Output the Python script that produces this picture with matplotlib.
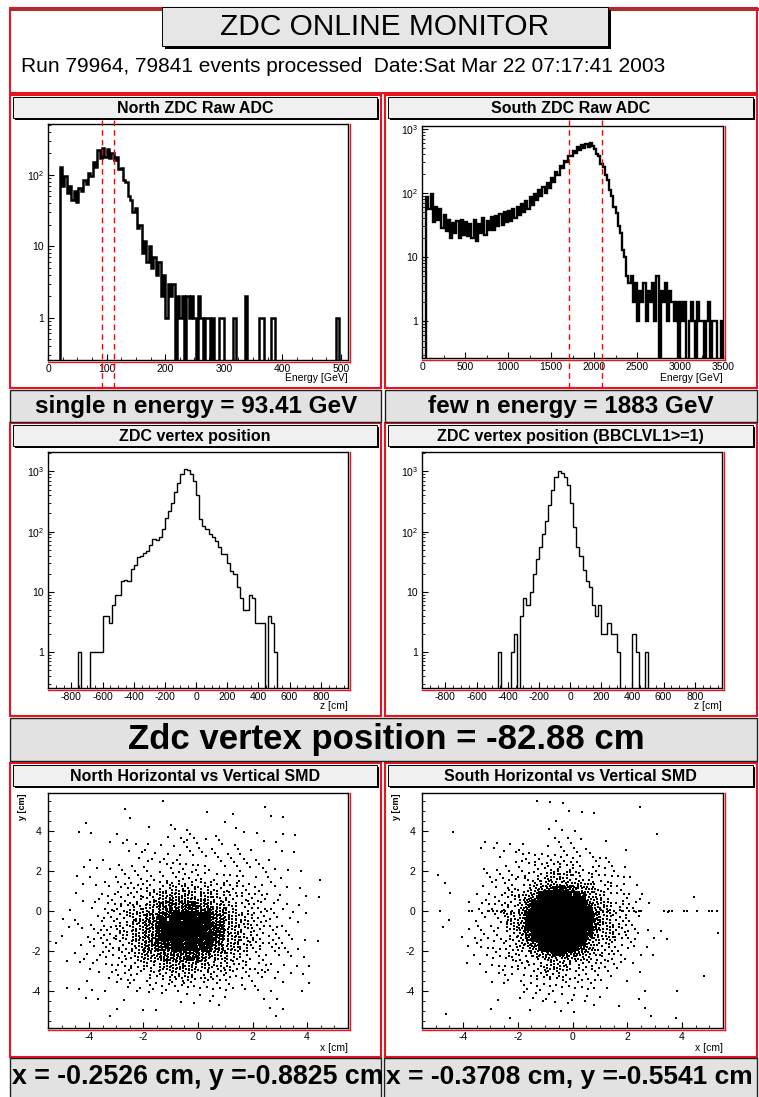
import numpy as np
import matplotlib
matplotlib.use('Agg')
import matplotlib.pyplot as plt
from matplotlib.patches import Rectangle
from matplotlib.ticker import MultipleLocator, LogLocator, FuncFormatter, NullFormatter

# ---- data ----
run_text = 'Run 79964, 79841 events processed  Date:Sat Mar 22 07:17:41 2003'

# north ZDC raw ADC, 4 GeV bins starting at 20 GeV
north_adc_start, north_adc_width = 20, 4
north_adc = [130, 70, 95, 55, 70, 45, 60, 42, 65, 60, 85, 75, 105, 95, 150, 130,
             220, 170, 240, 180, 230, 170, 205, 160, 175, 120, 125, 85, 80, 50,
             45, 30, 34, 18, 20, 8, 12, 6, 10, 5, 7, 4, 6, 2, 4, 1, 3, 2, 3, 0,
             2, 1, 2, 0, 2, 1, 2, 1, 0, 2, 1, 0, 1, 1, 0, 1, 0, 0, 1, 1, 0, 0,
             0, 0, 1, 0, 0, 0, 0, 2, 0, 0, 0, 0, 0, 1, 1, 0, 0, 0, 1, 1, 0, 0,
             0, 0, 0, 0, 0, 0, 0, 0, 0, 0, 0, 0, 0, 0, 0, 0, 0, 0, 0, 0, 0, 0,
             0, 0, 1, 0, 0]
north_cuts = [91.5, 113]

# south ZDC raw ADC, 25 GeV bins starting at 50 GeV
south_adc_start, south_adc_width = 50, 25
south_adc = [85, 55, 95, 35, 60, 38, 55, 28, 45, 25, 38, 20, 34, 24, 36, 20, 38,
             22, 35, 21, 33, 20, 38, 18, 33, 24, 40, 22, 36, 26, 42, 26, 44, 30,
             47, 31, 50, 35, 52, 37, 57, 40, 60, 45, 66, 50, 74, 56, 85, 65, 95,
             78, 110, 88, 125, 100, 140, 120, 170, 150, 210, 190, 260, 240, 310,
             300, 380, 370, 450, 420, 510, 470, 550, 500, 570, 520, 590, 540,
             480, 410, 370, 280, 250, 190, 160, 110, 90, 60, 48, 30, 24, 13, 10,
             5, 4, 5, 2, 4, 1, 3, 2, 4, 1, 3, 2, 4, 1, 5, 0, 3, 2, 4, 1, 3, 2,
             1, 2, 0, 2, 1, 2, 0, 1, 2, 1, 0, 2, 1, 1, 0, 1, 2, 0, 1, 1, 0, 0, 1]
south_cuts = [1708, 2093]

# ZDC vertex position, 20 cm bins from -1000 cm
vtx_start, vtx_width = -1000, 20
north_vtx = ([0] * 12 + [1, 0, 0, 0, 1, 1, 1, 1, 4, 4, 3, 6, 9, 9, 15, 16, 15, 24,
             28, 38, 40, 45, 48, 60, 75, 72, 80, 110, 170, 220, 300, 450, 650,
             900, 1080, 1050, 900, 700, 400, 160, 125, 110, 90, 82, 70, 55, 42,
             42, 30, 22, 20, 12, 8, 5, 5, 9, 8, 3, 3, 3, 0, 4, 3, 1] + [0] * 24)
south_vtx = ([0] * 27 + [1, 0, 0, 0, 1, 2, 0, 4, 8, 6, 10, 20, 35, 55, 90, 150,
             280, 500, 820, 1000, 950, 820, 600, 300, 120, 55, 40, 23, 15, 12,
             6, 4, 6, 2, 2, 3, 2, 2, 1, 0, 0, 0, 0, 2, 1, 0, 0, 1] + [0] * 25)

# SMD hit maps: counts in 0.5 cm cells, x from -5.5, rows from y=+6 downwards
smd_x0, smd_y0, smd_cell = -5.5, 6.0, 0.5
north_smd = [
    [0, 0, 0, 0, 0, 0, 0, 0, 0, 0, 0, 0, 0, 0, 0, 0, 0, 0, 0, 0, 0, 0],
    [0, 0, 0, 0, 0, 1, 0, 0, 1, 0, 0, 0, 0, 0, 0, 1, 0, 0, 0, 0, 0, 0],
    [0, 0, 0, 0, 0, 0, 1, 0, 0, 0, 0, 1, 0, 1, 0, 0, 1, 1, 0, 0, 0, 0],
    [0, 0, 1, 0, 0, 0, 0, 1, 0, 2, 1, 0, 0, 2, 0, 0, 0, 0, 0, 0, 0, 0],
    [0, 0, 1, 1, 0, 2, 0, 0, 1, 1, 3, 1, 2, 0, 1, 1, 0, 1, 1, 0, 0, 0],
    [0, 0, 0, 0, 1, 1, 1, 2, 1, 2, 2, 1, 2, 2, 1, 1, 1, 0, 0, 0, 0, 0],
    [0, 0, 0, 1, 1, 1, 2, 2, 2, 2, 2, 2, 2, 2, 2, 1, 1, 1, 1, 0, 0, 0],
    [0, 0, 1, 1, 1, 2, 2, 2, 3, 3, 3, 3, 2, 2, 2, 2, 1, 1, 1, 0, 0, 0],
    [0, 0, 1, 1, 1, 2, 2, 3, 3, 4, 4, 3, 3, 3, 2, 2, 1, 1, 0, 1, 0, 0],
    [0, 0, 1, 1, 2, 4, 4, 5, 7, 9, 9, 9, 5, 5, 4, 3, 2, 1, 1, 0, 0, 0],
    [0, 0, 1, 2, 3, 4, 5, 9, 15, 15, 15, 15, 9, 7, 5, 4, 2, 1, 1, 1, 0, 0],
    [0, 1, 1, 2, 4, 5, 9, 15, 25, 26, 36, 25, 15, 9, 5, 4, 2, 2, 1, 0, 0, 0],
    [0, 1, 1, 2, 4, 5, 12, 25, 36, 50, 50, 50, 25, 15, 9, 5, 4, 2, 1, 0, 0, 0],
    [0, 1, 2, 3, 4, 9, 15, 25, 50, 62, 70, 50, 36, 15, 9, 5, 4, 2, 1, 0, 0, 0],
    [0, 1, 1, 3, 4, 9, 15, 25, 50, 66, 70, 56, 36, 15, 9, 5, 4, 2, 1, 1, 0, 0],
    [1, 0, 1, 2, 4, 5, 12, 25, 36, 50, 53, 45, 25, 15, 9, 5, 4, 2, 1, 0, 0, 0],
    [0, 1, 2, 2, 4, 5, 9, 15, 25, 28, 34, 25, 15, 9, 5, 4, 2, 2, 1, 0, 0, 0],
    [0, 1, 1, 2, 3, 4, 5, 9, 15, 15, 15, 14, 9, 7, 5, 4, 2, 1, 1, 1, 0, 0],
    [0, 0, 1, 1, 2, 4, 4, 5, 7, 9, 9, 8, 5, 5, 4, 3, 2, 1, 1, 0, 0, 0],
    [0, 1, 1, 1, 1, 2, 2, 3, 3, 4, 4, 3, 3, 3, 2, 2, 1, 1, 0, 1, 0, 0],
    [0, 0, 1, 1, 0, 1, 1, 1, 1, 0, 1, 2, 1, 1, 0, 1, 1, 0, 1, 0, 0, 0],
    [0, 0, 0, 0, 0, 1, 1, 1, 0, 1, 1, 0, 1, 0, 0, 0, 1, 1, 0, 0, 0, 0],
    [0, 0, 0, 0, 1, 0, 0, 0, 0, 0, 0, 0, 0, 0, 0, 0, 1, 0, 0, 0, 0, 0],
    [0, 0, 0, 0, 0, 0, 0, 0, 0, 0, 0, 0, 0, 0, 0, 0, 0, 0, 0, 0, 0, 0],
]
south_smd = [
    [0, 0, 0, 0, 0, 0, 1, 1, 0, 0, 0, 0, 0, 0, 0, 0, 0, 0, 0, 0, 0, 0],
    [0, 0, 0, 0, 0, 0, 0, 0, 1, 1, 1, 0, 0, 0, 0, 1, 0, 0, 0, 0, 0, 0],
    [0, 0, 0, 0, 0, 0, 0, 0, 0, 1, 1, 1, 1, 0, 0, 0, 0, 0, 0, 0, 0, 0],
    [0, 0, 0, 0, 0, 0, 0, 0, 0, 1, 1, 1, 0, 0, 0, 0, 0, 0, 0, 0, 0, 0],
    [0, 0, 1, 0, 0, 0, 0, 0, 0, 1, 1, 1, 0, 1, 0, 0, 0, 1, 0, 0, 0, 0],
    [0, 0, 0, 0, 2, 2, 1, 2, 0, 2, 2, 1, 1, 0, 1, 0, 0, 0, 0, 0, 0, 0],
    [0, 0, 0, 0, 0, 2, 1, 3, 3, 3, 3, 3, 3, 1, 0, 0, 0, 0, 0, 0, 0, 0],
    [0, 0, 0, 0, 1, 1, 3, 3, 5, 6, 6, 5, 3, 3, 1, 0, 0, 0, 0, 0, 0, 0],
    [0, 1, 0, 0, 2, 3, 3, 6, 6, 12, 12, 6, 6, 3, 3, 1, 0, 0, 0, 0, 0, 0],
    [0, 1, 0, 0, 1, 2, 5, 0, 0, 0, 0, 0, 0, 6, 3, 1, 0, 0, 0, 0, 0, 0],
    [0, 0, 1, 1, 2, 3, 6, 0, 0, 0, 0, 0, 0, 6, 3, 2, 1, 0, 0, 1, 0, 0],
    [0, 0, 0, 1, 3, 3, 6, 0, 0, 0, 0, 0, 0, 12, 6, 3, 1, 0, 0, 0, 0, 0],
    [0, 0, 1, 1, 3, 3, 12, 0, 0, 0, 0, 0, 0, 12, 6, 3, 1, 1, 0, 0, 0, 0],
    [0, 1, 0, 1, 2, 4, 12, 0, 0, 0, 0, 0, 0, 12, 6, 3, 1, 1, 0, 0, 0, 0],
    [0, 0, 1, 1, 3, 3, 6, 0, 0, 0, 0, 0, 0, 12, 6, 3, 1, 1, 0, 0, 0, 1],
    [0, 0, 0, 1, 3, 3, 6, 0, 0, 0, 0, 0, 0, 6, 3, 3, 1, 0, 0, 0, 0, 0],
    [0, 0, 0, 1, 1, 3, 6, 0, 0, 0, 0, 0, 0, 6, 3, 1, 1, 0, 0, 0, 0, 0],
    [0, 0, 0, 1, 1, 3, 3, 6, 6, 12, 12, 6, 6, 3, 3, 1, 0, 0, 0, 0, 0, 0],
    [0, 0, 0, 0, 1, 1, 3, 3, 5, 6, 6, 5, 3, 3, 1, 1, 0, 0, 0, 0, 1, 0],
    [0, 0, 0, 0, 0, 1, 1, 3, 3, 3, 3, 3, 3, 1, 0, 0, 1, 0, 0, 0, 0, 0],
    [0, 0, 0, 0, 0, 1, 0, 2, 2, 2, 2, 2, 1, 1, 0, 1, 0, 0, 1, 0, 0, 0],
    [0, 0, 0, 0, 0, 1, 0, 1, 1, 1, 1, 0, 1, 0, 1, 0, 1, 0, 0, 0, 0, 0],
    [0, 1, 0, 0, 0, 0, 1, 0, 0, 0, 1, 1, 0, 0, 0, 0, 1, 0, 1, 0, 0, 0],
    [0, 0, 0, 0, 0, 0, 0, 0, 0, 0, 1, 0, 0, 0, 0, 0, 0, 0, 0, 0, 0, 0],
]
# dense south core in finer 0.25 cm cells, x from -2.0, rows from y=+1.5 down
core_x0, core_y0, core_cell = -2.0, 1.5, 0.25
south_core = [
    [1, 1, 3, 3, 4, 4, 4, 4, 3, 3, 3, 1],
    [1, 3, 3, 4, 8, 15, 15, 8, 8, 4, 3, 3],
    [3, 3, 4, 15, 32, 32, 32, 32, 15, 8, 4, 3],
    [3, 4, 8, 32, 45, 45, 45, 45, 32, 15, 4, 3],
    [3, 8, 32, 45, 45, 45, 45, 45, 45, 32, 8, 4],
    [4, 8, 32, 45, 45, 45, 45, 45, 45, 45, 15, 4],
    [4, 15, 45, 45, 45, 45, 45, 45, 45, 45, 32, 8],
    [4, 15, 45, 45, 45, 45, 45, 45, 45, 45, 32, 8],
    [4, 15, 45, 45, 45, 45, 45, 45, 45, 45, 32, 8],
    [4, 15, 45, 45, 45, 45, 45, 45, 45, 45, 32, 8],
    [4, 8, 32, 45, 45, 45, 45, 45, 45, 45, 15, 4],
    [3, 8, 32, 45, 45, 45, 45, 45, 45, 32, 8, 4],
    [3, 4, 8, 32, 45, 45, 45, 45, 32, 15, 4, 3],
    [3, 3, 4, 15, 32, 32, 32, 32, 15, 8, 4, 3],
    [1, 3, 3, 4, 8, 15, 15, 8, 8, 4, 3, 3],
    [1, 1, 3, 3, 4, 4, 4, 4, 3, 3, 3, 1],
]
# south events with only one plane hit end up on the y = 0 line
south_line_x = [-4.84, -3.80, -3.68, -3.07, -2.89, -2.77, -2.59, -2.46, -2.2,
                -1.95, -1.75, 1.1, 1.3, 1.51, 1.81, 2.06, 2.24, 2.42, 3.34, 3.52,
                3.64, 4.07, 4.19, 4.56, 4.99, 5.11, 5.29]

single_n = 'single n energy = 93.41 GeV'
few_n = 'few n energy = 1883 GeV'
vtx_text = 'Zdc vertex position = -82.88 cm'
north_xy = 'x = -0.2526 cm, y =-0.8825 cm'
south_xy = 'x = -0.3708 cm, y =-0.5541 cm'

# ---- page layout (pixel boxes) ----
plt.rcParams['font.family'] = ['Liberation Sans', 'DejaVu Sans']
plt.rcParams['mathtext.fontset'] = 'custom'
plt.rcParams['mathtext.rm'] = 'Liberation Sans'
plt.rcParams['axes.unicode_minus'] = False

W, H = 759, 1097
RED = '#e8141e'
fig = plt.figure(figsize=(W / 100, H / 100), dpi=100)
bg = fig.add_axes([0, 0, 1, 1], zorder=0)
bg.set_xlim(0, W)
bg.set_ylim(H, 0)
bg.axis('off')


def rect(x0, y0, x1, y1, fc='none', ec='none', lw=0, z=1):
    bg.add_patch(Rectangle((x0, y0), x1 - x0, y1 - y0, facecolor=fc,
                           edgecolor=ec, linewidth=lw, zorder=z))


def title_box(x0, y0, x1, y1, text, fs=11.5):
    rect(x0 + 2, y0 + 2, x1 + 2, y1 + 2, fc='black', z=2)
    rect(x0, y0, x1, y1, fc='#f0f0f0', ec='black', lw=0.7, z=3)
    bg.text((x0 + x1) / 2, (y0 + y1) / 2 + 1, text, ha='center', va='center',
            fontsize=fs, fontweight='bold', zorder=4)


def label_box(x0, y0, x1, y1, z=2):
    rect(x0, y0, x1, y1, fc='#e2e2e2', ec='#202020', lw=1.0, z=z)


# header
rect(10, 8, 757, 93, fc='white', ec=RED, lw=1.5)
bg.plot([10, 757], [8.5, 8.5], color='#a83030', lw=2.2, zorder=2)
rect(165, 10, 611, 49, fc='black', z=2)
rect(162, 7, 608, 46, fc='#e6e6e6', ec='black', lw=0.7, z=3)
bg.text(385, 27, 'ZDC ONLINE MONITOR', ha='center', va='center', fontsize=21.5, zorder=4)
bg.text(21, 66, run_text, ha='left', va='center', fontsize=15, zorder=4)

LX = (10, 381)
RX = (385, 757)
for xs in (LX, RX):
    rect(xs[0], 95, xs[1], 388, fc='white', ec=RED, lw=1.5)
    rect(xs[0], 423, xs[1], 716, fc='white', ec=RED, lw=1.5)
    rect(xs[0], 763, xs[1], 1057, fc='white', ec=RED, lw=1.5)

title_box(13, 97, 377, 118, 'North ZDC Raw ADC')
title_box(388, 97, 753, 118, 'South ZDC Raw ADC')
title_box(13, 425, 377, 446, 'ZDC vertex position')
title_box(388, 425, 753, 446, 'ZDC vertex position (BBCLVL1>=1)')
title_box(13, 765, 377, 786, 'North Horizontal vs Vertical SMD')
title_box(388, 765, 753, 786, 'South Horizontal vs Vertical SMD')

label_box(10, 390, 381, 422)
label_box(385, 390, 757, 422)
bg.text(196, 407, single_n, ha='center', va='center', fontsize=17.5, fontweight='bold', zorder=5)
bg.text(571, 407, few_n, ha='center', va='center', fontsize=17.5, fontweight='bold', zorder=5)

label_box(10, 718, 757, 761)
bg.text(386, 740, vtx_text, ha='center', va='center', fontsize=25, fontweight='bold', zorder=5)

label_box(10, 1058, 381, 1099)
bg.text(12, 1077, north_xy, ha='left', va='center', fontsize=19.3, fontweight='bold', zorder=5)
label_box(384, 1058, 757, 1099, z=6)
bg.text(386, 1077, south_xy, ha='left', va='center', fontsize=19, fontweight='bold', zorder=7)


def add_ax(x0, y0, x1, y1):
    ax = fig.add_axes([x0 / W, 1 - y1 / H, (x1 - x0) / W, (y1 - y0) / H], zorder=1)
    for s in ax.spines.values():
        s.set_linewidth(1.0)
    ax.tick_params(which='both', direction='in', top=False, right=False,
                   labelsize=7.5, pad=3)
    ax.tick_params(which='major', length=4.5, width=0.8)
    ax.tick_params(which='minor', length=2.3, width=0.6)
    # red border of the ROOT frame
    bg.plot([x1 + 1.5, x1 + 1.5], [y0, y1 + 1.5], color=RED, lw=1.0, zorder=2)
    bg.plot([x0, x1 + 1.5], [y1 + 1.5, y1 + 1.5], color=RED, lw=1.0, zorder=2)
    return ax


def log_label(v, pos):
    e = int(round(np.log10(v)))
    if e == 0:
        return '1'
    if e == 1:
        return '10'
    if e > 1:
        return r'$\mathregular{10^{%d}}$' % e
    return ''


def log_axis(ax, ylo, yhi):
    ax.set_yscale('log', nonpositive='clip')
    ax.set_ylim(ylo, yhi)
    ax.yaxis.set_major_locator(LogLocator(base=10, numticks=10))
    ax.yaxis.set_minor_locator(LogLocator(base=10, subs=np.arange(2, 10), numticks=10))
    ax.yaxis.set_major_formatter(FuncFormatter(log_label))
    ax.yaxis.set_minor_formatter(NullFormatter())


def hist(ax, start, width, counts, lw):
    counts = np.asarray(counts, dtype=float)
    edges = start + width * np.arange(len(counts) + 1)
    ax.stairs(np.where(counts > 0, counts, 1e-3), edges, baseline=1e-3,
              color='black', lw=lw)


def axis_title(ax, text, dy):
    ax.text(1.0, dy, text, transform=ax.transAxes, ha='right', va='top', fontsize=7.5)


def cut_lines(ax, xs, lo, hi):
    for x in xs:
        ax.axvline(x, ymin=lo, ymax=hi, color='red', lw=1.0, ls=(0, (4, 3)),
                   clip_on=False, zorder=5)


# north ADC
ax = add_ax(48, 124, 348, 360)
hist(ax, north_adc_start, north_adc_width, north_adc, 1.8)
ax.set_xlim(0, 512)
log_axis(ax, 0.255, 515)
ax.xaxis.set_major_locator(MultipleLocator(100))
ax.xaxis.set_minor_locator(MultipleLocator(25))
axis_title(ax, 'Energy [GeV]', -0.055)
cut_lines(ax, north_cuts, -0.119, 1.017)

# south ADC
ax = add_ax(422, 126, 723, 358)
hist(ax, south_adc_start, south_adc_width, south_adc, 1.7)
ax.set_xlim(0, 3500)
log_axis(ax, 0.267, 1100)
ax.xaxis.set_major_locator(MultipleLocator(500))
ax.xaxis.set_minor_locator(MultipleLocator(250))
axis_title(ax, 'Energy [GeV]', -0.065)
cut_lines(ax, south_cuts, -0.129, 1.03)

# vertex plots
for x0, x1, counts in ((48, 348, north_vtx), (422, 722, south_vtx)):
    ax = add_ax(x0, 452, x1, 688)
    hist(ax, vtx_start, vtx_width, counts, 1.0)
    ax.set_xlim(-950, 975)
    log_axis(ax, 0.253, 2100)
    ax.xaxis.set_minor_locator(MultipleLocator(50))
    ax.set_xticks([-800, -600, -400, -200, 0, 200, 400, 600, 800])
    axis_title(ax, 'z [cm]', -0.055)

# SMD scatter maps: each cell's count is spread over the cell on a fixed
# low-discrepancy pattern (ROOT "scat" style)
G = 1.32471795724474602596


def cell_points(grid, x0, y0, cell, seed=0):
    grid = np.asarray(grid)
    xs, ys = [], []
    for r in range(grid.shape[0]):
        for c in range(grid.shape[1]):
            n = grid[r, c]
            if n == 0:
                continue
            k = np.arange(n) + 37 * (r * grid.shape[1] + c) + seed
            xs.append(x0 + cell * (c + (0.5 + k / G) % 1))
            ys.append(y0 - cell * (r + (0.5 + k / G ** 2) % 1))
    return np.concatenate(xs), np.concatenate(ys)


north_pts = [cell_points(north_smd, smd_x0, smd_y0, smd_cell)]
south_pts = [cell_points(south_smd, smd_x0, smd_y0, smd_cell),
             cell_points(south_core, core_x0, core_y0, core_cell, seed=5000),
             (np.asarray(south_line_x), np.zeros(len(south_line_x)))]

for x0, x1, parts in ((48, 348, north_pts), (422, 723, south_pts)):
    ax = add_ax(x0, 793, x1, 1028)
    px = np.concatenate([p[0] for p in parts])
    py = np.concatenate([p[1] for p in parts])
    ax.scatter(px, py, s=2.4, marker='s', c='black', linewidths=0)
    ax.set_xlim(-5.5, 5.5)
    ax.set_ylim(-5.85, 5.9)
    ax.xaxis.set_major_locator(MultipleLocator(2))
    ax.xaxis.set_minor_locator(MultipleLocator(0.5))
    ax.yaxis.set_major_locator(MultipleLocator(2))
    ax.yaxis.set_minor_locator(MultipleLocator(0.5))
    ax.tick_params(axis='y', pad=5)
    axis_title(ax, 'x [cm]', -0.065)
    ax.text(-0.085, 1.0, 'y [cm]', transform=ax.transAxes, rotation=90,
            ha='center', va='top', fontsize=6.5, fontweight='bold')

fig.savefig('out.png', dpi=100)
